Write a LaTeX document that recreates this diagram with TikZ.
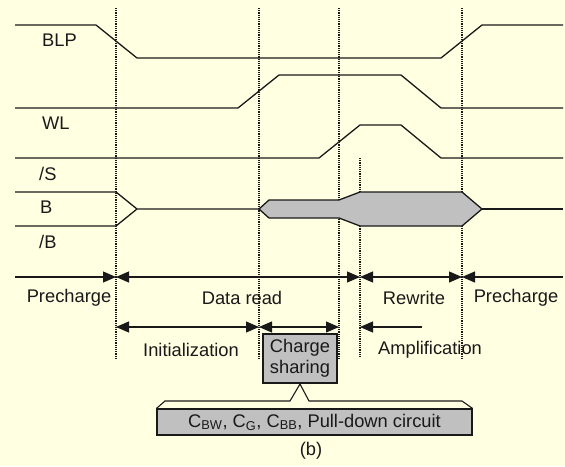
\documentclass[tikz,border=0pt]{standalone}
\usepackage{fontspec}
\setmainfont{Liberation Sans}
\usetikzlibrary{arrows.meta}
\definecolor{bg}{RGB}{255,255,226}
\definecolor{boxgray}{RGB}{192,192,192}
\definecolor{ink}{RGB}{25,25,25}
\begin{document}
\begin{tikzpicture}[x=1pt,y=-1pt,
  wave/.style={line width=1.3pt, draw=ink, line join=miter},
  marker/.style={densely dotted, line width=1.2pt, draw=ink},
  onearr/.style={line width=1.1pt, draw=ink, -{Triangle[length=13pt,width=11pt]}},
  twoarr/.style={line width=1.1pt, draw=ink, {Triangle[length=13pt,width=11pt]}-{Triangle[length=13pt,width=11pt]}},
  lbl/.style={font=\fontsize{18.3}{20.5}\selectfont, inner sep=0pt, text=ink},
  graybox/.style={draw=ink, line width=1.1pt, fill=boxgray}]
\fill[bg] (0,0) rectangle (565,466);
\useasboundingbox (0,0) rectangle (565,466);

% time markers
\draw[marker] (116,8) -- (116,358);
\draw[marker] (259,8) -- (259,358);
\draw[marker] (339,8) -- (339,358);
\draw[marker] (360,158) -- (360,358);
\draw[marker] (462,8) -- (462,358);

% waveforms
\draw[wave] (15,25) -- (96,25) -- (137,58) -- (441,58) -- (482,25) -- (563,25);
\draw[wave] (15,108) -- (238,108) -- (279,75) -- (401,75) -- (441,108) -- (563,108);
\draw[wave] (15,158) -- (319,158) -- (360,125) -- (401,125) -- (441,158) -- (563,158);
\draw[wave] (15,192) -- (116,192) -- (137,209) -- (259,209);
\draw[wave] (15,226) -- (116,226) -- (137,209);
\draw[wave, fill=boxgray] (259,209) -- (269,200) -- (339,200) -- (360,192) -- (462,192) -- (482,209)
   -- (462,226) -- (360,226) -- (339,218) -- (269,218) -- cycle;
\draw[wave] (482,209) -- (563,209);

% signal labels
\node[lbl, anchor=west] (lblp) at (42,40) {BLP};
\node[lbl, anchor=west] (lwl) at (42,123) {WL};
\node[lbl, anchor=west] (ls) at (39,174) {/S};
\node[lbl, anchor=west] (lb) at (40,207) {B};
\node[lbl, anchor=west] (lnb) at (39,242) {/B};

% phase arrows, first row
\coordinate (a0) at (15,277);
\coordinate (a1) at (116,277);
\coordinate (a2) at (360,277);
\coordinate (a3) at (462,277);
\coordinate (a4) at (563,277);
\draw[onearr] (a0) -- (a1);
\draw[twoarr] (a1) -- (a2);
\draw[twoarr] (a2) -- (a3);
\draw[onearr] (a4) -- (a3);
\node[lbl] (pre1) at (69,298) {Precharge};
\node[lbl] (dr) at (242,298) {Data read};
\node[lbl] (rw) at (414,298) {Rewrite};
\node[lbl] (pre2) at (516,298) {Precharge};

% phase arrows, second row
\coordinate (b1) at (116,327);
\coordinate (b2) at (259,327);
\coordinate (b3) at (339,327);
\coordinate (b4) at (360,327);
\coordinate (b5) at (422,327);
\draw[twoarr] (b1) -- (b2);
\draw[twoarr] (b2) -- (b3);
\draw[onearr] (b5) -- (b4);
\node[lbl] (ini) at (191,350) {Initialization};
\node[lbl] (amp) at (430,350) {Amplification};

% charge sharing box
\node[lbl, graybox, minimum width=74pt, minimum height=49pt, align=center, inner sep=0pt] (cs) at (300,358.5) {Charge\\sharing};

% callout
\node[lbl, graybox, minimum width=315pt, minimum height=26pt] (co) at (314.5,422) {C\textsubscript{BW}, C\textsubscript{G}, C\textsubscript{BB}, Pull-down circuit};
\coordinate (tipc) at (300,384);
\draw[line width=1.1pt, draw=ink, line join=miter] (co.north west) -- (165,401) -- (290,401) -- (tipc) -- (309,401) -- (462,401) -- (co.north east);

\node[lbl] (cap) at (311,451) {(b)};
\end{tikzpicture}
\end{document}
